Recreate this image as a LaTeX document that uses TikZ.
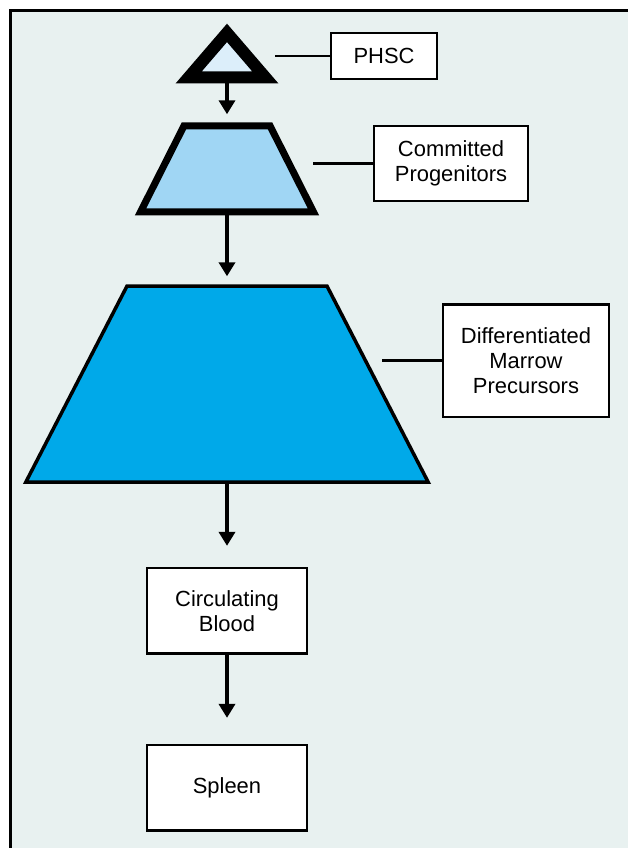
\documentclass[tikz,border=0pt]{standalone}
\usepackage{fontspec}
\setmainfont{Liberation Sans}
\usetikzlibrary{arrows.meta,positioning,shapes.geometric}
\definecolor{HPPanel}{HTML}{E8F1F0}
\definecolor{HPPale}{HTML}{DCEEFA}
\definecolor{HPSky}{HTML}{A0D6F4}
\definecolor{HPCyan}{HTML}{00A9E9}
\definecolor{HPInk}{HTML}{000000}
\tikzset{
  >={Triangle[width=4mm,length=3.5mm]},
  hpbox/.style={draw=HPInk, line width=0.6mm, fill=white, align=center,
    inner sep=0pt, font=\fontsize{15.6}{17.8}\selectfont},
  hptrap/.style={trapezium, draw=HPInk},
  hparrow/.style={->, line width=1.2mm, draw=HPInk},
  hplead/.style={line width=0.6mm, draw=HPInk}
}

\begin{document}
\begin{tikzpicture}[x=0.25mm, y=-0.25mm]
  \useasboundingbox (0,0) rectangle (628,848);
  \fill[HPPanel] (10.5,10.5) rectangle (628,848);
  \draw[line width=0.75mm] (10.5,848) -- (10.5,10.5) -- (628,10.5);

  % cell hierarchy
  \node[isosceles triangle, isosceles triangle stretches, shape border rotate=90,
    draw=HPInk, line width=3mm, fill=HPPale, inner sep=0pt,
    minimum width=19.1mm, minimum height=11.1mm] (stem) at (227,59.75) {};
  \node[hptrap, below=9.75mm of stem, trapezium angle=63.2, line width=1.75mm,
    fill=HPSky, inner xsep=10.75mm, inner ysep=10.75mm] (progen) {};
  \node[hptrap, below=17.25mm of progen, trapezium angle=62.7, line width=0.875mm,
    fill=HPCyan, inner xsep=25mm, inner ysep=24.5mm] (precur) {};
  \node[hpbox, below=20.75mm of precur, minimum width=40.1mm, minimum height=21.4mm]
    (blood) {Circulating\\Blood};
  \node[hpbox, below=22.25mm of blood, minimum width=40.1mm, minimum height=21.4mm]
    (spleen) {Spleen};

  % labels
  \node[hpbox, minimum width=26.4mm, minimum height=11.4mm] (stemlabel) at (384,56) {PHSC};
  \node[hpbox, minimum width=38.4mm, minimum height=18.6mm] (progenlabel) at (451,163.5)
    {Committed\\Progenitors};
  \node[hpbox, minimum width=41.4mm, minimum height=28.1mm] (precurlabel) at (526,360.5)
    {Differentiated\\Marrow\\Precursors};

  \draw[hparrow, shorten >=2mm] (stem.south) -- (progen.north);
  \draw[hparrow, shorten >=2mm] (progen.south) -- (precur.north);
  \draw[hparrow, shorten >=5.25mm] (precur.south) -- (blood.north);
  \draw[hparrow, shorten >=6.5mm] (blood) -- (spleen);

  \draw[hplead] (stemlabel.west) -- ++(-55,0);
  \draw[hplead] (progenlabel.west) -- ++(-60,0);
  \draw[hplead] (precurlabel.west) -- ++(-60,0);
\end{tikzpicture}
\end{document}
